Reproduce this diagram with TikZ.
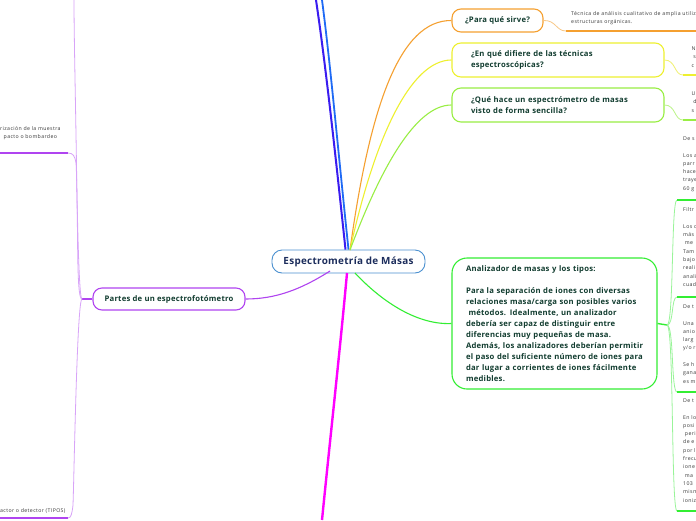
\documentclass[tikz,border=0pt]{standalone}
\usepackage{fontspec}
\setmainfont{Open Sans}
\newfontfamily\smallfont[LetterSpace=7.5]{Open Sans}
\newfontfamily\nodefont[LetterSpace=3]{Open Sans}
\definecolor{navy}{HTML}{1C2D5C}
\definecolor{ntext}{HTML}{123D30}
\definecolor{stext}{HTML}{3A3A3A}
\definecolor{cenb}{HTML}{4A90D0}
\definecolor{orng}{HTML}{F5A030}
\definecolor{orngl}{HTML}{F8C888}
\definecolor{yel}{HTML}{EEF030}
\definecolor{yell}{HTML}{F0F070}
\definecolor{lgrn}{HTML}{99EE44}
\definecolor{lgrnl}{HTML}{BBF488}
\definecolor{grn}{HTML}{33EE33}
\definecolor{grnl}{HTML}{99F499}
\definecolor{mag}{HTML}{FF00FF}
\definecolor{blu1}{HTML}{3A1CF0}
\definecolor{blu2}{HTML}{1F6AF5}
\definecolor{pur}{HTML}{B044F0}
\definecolor{purl}{HTML}{D8A4F8}
\tikzset{
  bub/.style={draw, rounded corners=9pt, fill=white, line width=1.1pt,
    font=\nodefont\bfseries\fontsize{7.7}{11}\selectfont, text=ntext},
  small/.style={font=\smallfont\fontsize{5.2}{8.3}\selectfont, text=stext, inner sep=0pt, align=left},
  conn/.style={line width=1.1pt},
}
\begin{document}
\begin{tikzpicture}[x=1pt,y=-1pt]
\useasboundingbox (0,0) rectangle (696,520);
\fill[white] (0,0) rectangle (696,520);

% coordinates
\coordinate (ctop) at (350,250);
\coordinate (cbot) at (347,273);
\coordinate (b1) at (316,0);
\coordinate (b2) at (322,0);
\coordinate (mb) at (322,520);

% central node
\node[draw=cenb, line width=0.9pt, rounded corners=10pt, fill=white, minimum width=153pt, minimum height=23pt,
  font=\nodefont\bfseries\fontsize{9.9}{11}\selectfont, text=navy] (cen) at (348.5,261.5) {Espectrometría de Másas};

% right nodes
\node[bub, draw=orng, minimum width=91pt, minimum height=23pt] (para) at (497.5,20.5) {¿Para qué sirve?};
\node[bub, draw=yel, minimum width=212pt, minimum height=34pt, text width=174pt, inner xsep=19pt, align=left] (dif) at (558,60) {¿En qué difiere de las técnicas\\espectroscópicas?};
\node[bub, draw=lgrn, minimum width=212pt, minimum height=34pt, text width=174pt, inner xsep=19pt, align=left] (hace) at (558,105) {¿Qué hace un espectrómetro de masas\\visto de forma sencilla?};
\node[bub, draw=grn, rounded corners=15pt, minimum width=205pt, minimum height=131pt, text width=177pt, inner xsep=14pt, align=left] (an) at (554.5,323.5) {Analizador de masas y los tipos:\\[11.1pt]Para la separación de iones con diversas\\relaciones masa/carga son posibles varios\\\ métodos. Idealmente, un analizador\\debería ser capaz de distinguir entre\\diferencias muy pequeñas de masa.\\Además, los analizadores deberían permitir\\el paso del suficiente número de iones para\\dar lugar a corrientes de iones fácilmente\\medibles.};

% left node
\node[bub, draw=pur, minimum width=152pt, minimum height=22pt] (partes) at (169,299) {Partes de un espectrofotómetro};

% main connectors
\draw[blu1, line width=2pt] (cen.north) ++(-3,0) coordinate (bs1) (bs1) .. controls (335,150) and (325,60) .. (b1);
\draw[blu2, line width=1.8pt] (cen.north) ++(0,0) coordinate (bs2) (bs2) .. controls (338,150) and (330,60) .. (b2);
\draw[orng, conn] (ctop) .. controls (370,105) and (400,20) .. (para.west);
\draw[yel, conn] (ctop) .. controls (374,140) and (410,60) .. (dif.west);
\draw[lgrn, conn] (ctop) .. controls (380,170) and (415,105) .. (hace.west);
\draw[grn, conn] (cbot) ++(8,0) coordinate (gs) (gs) .. controls (385,305) and (420,325) .. (an.west);
\draw[mag, line width=2.4pt] (cbot) .. controls (340,350) and (330,440) .. (mb);
\draw[pur, conn] (cbot) ++(-17,-2) coordinate (ps) (ps) .. controls (300,290) and (275,299) .. (partes.east);

% right side sub-branches
\coordinate (pu1) at (566,31);
\coordinate (pu2) at (696,31);
\draw[orngl, line width=0.8pt] (para.east) .. controls (556,20) and (556,31) .. (pu1);
\draw[orng, line width=1.6pt] (pu1) -- (pu2);
\node[small, anchor=north west] (pt) at (571,11.5) {Técnica de análisis cualitativo de amplia utiliz\\estructuras orgánicas.};

\coordinate (du1) at (683,75);
\coordinate (du2) at (696,75);
\draw[yell, line width=0.8pt] (dif.east) .. controls (676,60) and (674,75) .. (du1);
\draw[yel, line width=1.6pt] (du1) -- (du2);
\node[small, anchor=north west] (dt) at (691.5,46.5) {N\\\ s\\c};

\coordinate (hu1) at (683,120);
\coordinate (hu2) at (696,120);
\draw[lgrnl, line width=0.8pt] (hace.east) .. controls (676,105) and (674,120) .. (hu1);
\draw[lgrn, line width=1.6pt] (hu1) -- (hu2);
\node[small, anchor=north west] (ht) at (691.5,91.5) {U\\\ d\\s};

% analyzer children
\coordinate (aj) at (667,325);
\draw[grn, line width=1.4pt] (an.east) -- (aj);
\coordinate (a1) at (677,200);
\coordinate (a2) at (677,297);
\coordinate (a3) at (677,392);
\coordinate (a4) at (677,511);
\draw[grnl, line width=0.8pt] (aj) .. controls (674,325) and (671,200) .. (a1);
\draw[grnl, line width=0.8pt] (aj) .. controls (674,325) and (671,297) .. (a2);
\draw[grnl, line width=0.8pt] (aj) .. controls (674,325) and (671,392) .. (a3);
\draw[grnl, line width=0.8pt] (aj) .. controls (674,325) and (671,511) .. (a4);
\foreach \c in {a1,a2,a3,a4}{ \draw[grn, line width=1.6pt] (\c) -- (\c-|pu2); }

\node[small, anchor=north west] (g1) at (683,136.5) {De s\\[8.3pt]Los a\\parr\\hace\\traye\\60 g};
\node[small, anchor=north west] (g2) at (683,207.5) {Filtr\\[8.3pt]Los c\\más\\\ me\\Tam\\bajo\\reali\\anali\\cuad};
\node[small, anchor=north west] (g3) at (683,304.5) {De t\\[8.3pt]Una\\anio\\larg\\y/o r\\[8.3pt]Se h\\gana\\es m};
\node[small, anchor=north west] (g4) at (683,398.5) {De t\\[8.3pt]En lo\\posi\\\ peri\\de e\\por l\\frecu\\ione\\\ ma\\103\\mism\\ioniz};

% left side
\coordinate (lj) at (82,299);
\coordinate (lt) at (74,0);
\coordinate (lh1) at (68,153);
\coordinate (lh0) at (0,153);
\coordinate (lb1) at (68,518);
\coordinate (lb0) at (0,518);
\draw[pur, line width=1.2pt] (partes.west) -- (lj);
\draw[purl, line width=0.8pt] (lj) .. controls (77,299) and (78,250) .. (77,200) .. controls (76,120) and (74,40) .. (lt);
\draw[purl, line width=0.8pt] (lj) .. controls (78,299) and (77,170) .. (76,163) .. controls (75,156) and (73,153) .. (lh1);
\draw[purl, line width=0.8pt] (lj) .. controls (77,299) and (74,480) .. (73,505) .. controls (72,514) and (71,518) .. (lb1);
\draw[pur, line width=1.6pt] (lh1) -- (lh0);
\draw[pur, line width=1.6pt] (lb1) -- (lb0);
\node[small, anchor=north west] (lt1) at (0,126.5) {rización de la muestra\\\ \ pacto o bombardeo};
\node[small, anchor=north west] (lt2) at (0,508.5) {actor o detector (TIPOS)};
\end{tikzpicture}
\end{document}
